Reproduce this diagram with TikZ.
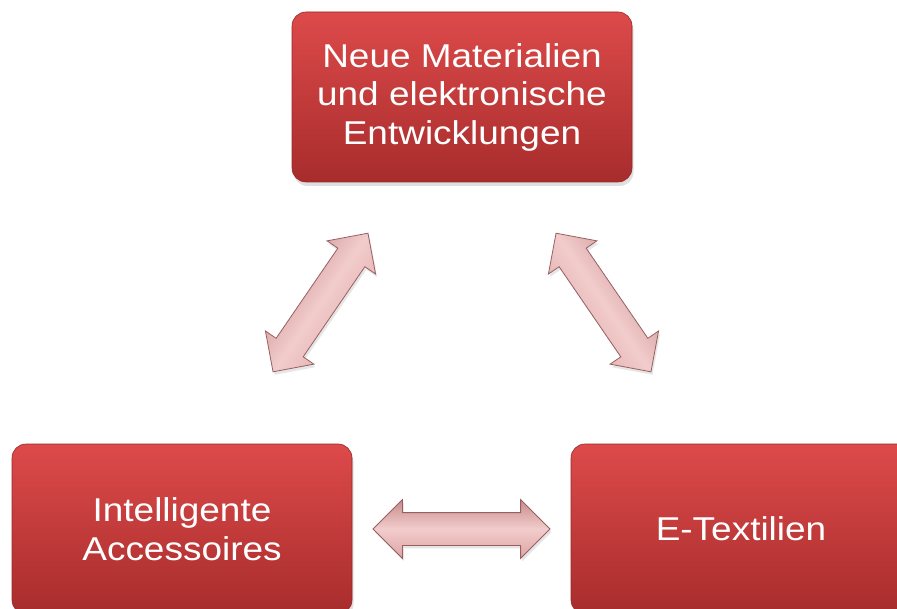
\documentclass[tikz,border=0pt]{standalone}
\usepackage{fontspec}
\setmainfont{Liberation Sans}[FakeStretch=1.12]
\usetikzlibrary{shapes.arrows,shadows}
\definecolor{boxtop}{RGB}{221,74,74}
\definecolor{boxbot}{RGB}{168,44,44}
\definecolor{boxedge}{RGB}{150,40,40}
\definecolor{arrfill}{RGB}{222,164,164}
\definecolor{arrlight}{RGB}{242,204,204}
\definecolor{arrdark}{RGB}{200,140,140}
\definecolor{arredge}{RGB}{150,96,96}
\tikzset{
  box/.style={rectangle, rounded corners=14pt, minimum width=340pt, minimum height=170pt,
    top color=boxtop, bottom color=boxbot, draw=boxedge, line width=0.6pt,
    text=white, align=center, font=\fontsize{33}{38.5}\selectfont,
    drop shadow={shadow xshift=1.5pt, shadow yshift=-4pt, opacity=0.25}},
  dbl/.style={double arrow, double arrow head extend=13pt,
    inner xsep=0pt, inner ysep=16pt, draw=arredge, line width=0.8pt,
    top color=arrdark, bottom color=arrfill, middle color=arrlight,
    drop shadow={shadow xshift=1.5pt, shadow yshift=-3pt, opacity=0.2}}
}
\begin{document}
\begin{tikzpicture}[x=1pt, y=-1pt]
\useasboundingbox (0,0) rectangle (897,609);
\clip (0,0) rectangle (897,609);
\node[box] (top) at (462,97) {Neue Materialien\\und elektronische\\Entwicklungen};
\node[box] (left) at (182,529) {Intelligente\\Accessoires};
\node[box] (right) at (741,529) {E-Textilien};
\node[dbl, minimum height=168pt, rotate=55.6, shading angle=55.6] (a1) at (320.5,302.5) {};
\node[dbl, minimum height=168pt, rotate=-55.6, shading angle=-55.6] (a2) at (603.5,302.5) {};
\node[dbl, minimum height=177pt] (a3) at (461.5,529) {};
\end{tikzpicture}
\end{document}
